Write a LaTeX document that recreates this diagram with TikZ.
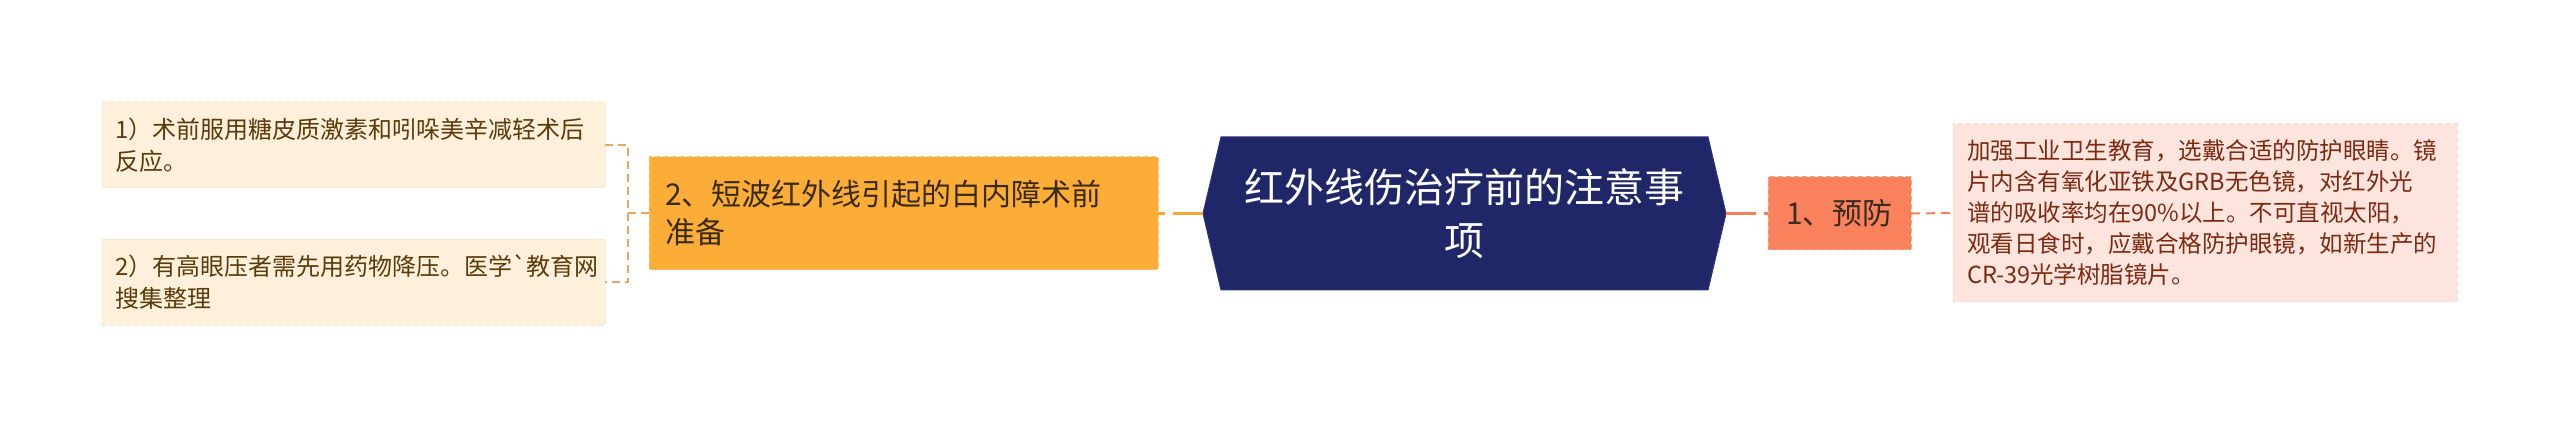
\documentclass[tikz,border=0pt]{standalone}
\usepackage{fontspec}
\setmainfont{Noto Sans CJK SC}[Ligatures=TeXOff]
\usetikzlibrary{backgrounds,calc}
\definecolor{navy}{HTML}{202768}
\definecolor{navyedge}{HTML}{2E3678}
\definecolor{orangefill}{HTML}{FBAD37}
\definecolor{orangeedge}{HTML}{FCC774}
\definecolor{orangetext}{HTML}{3B2A12}
\definecolor{coralfill}{HTML}{F9815B}
\definecolor{coraledge}{HTML}{FBA287}
\definecolor{coraltext}{HTML}{3A2A22}
\definecolor{leaffill}{HTML}{FEF0DA}
\definecolor{leafedge}{HTML}{FBE6C6}
\definecolor{leaftext}{HTML}{5C3B0B}
\definecolor{pinkfill}{HTML}{FDE5DD}
\definecolor{pinkedge}{HTML}{FBD9CE}
\definecolor{pinktext}{HTML}{7C2A12}
\definecolor{leftline}{HTML}{F7A838}
\definecolor{bracketline}{HTML}{E8A95E}
\definecolor{rightline}{HTML}{F4805A}
\begin{document}
\begin{tikzpicture}[x=1pt,y=-1pt,
  every node/.style={inner sep=0pt, outer sep=0pt},
  rootbox/.style={minimum width=523pt, minimum height=153pt, align=center,
    text=white, font=\fontsize{40}{53}\selectfont},
  mainbranch/.style={draw=orangeedge, dashed, dash pattern=on 5pt off 3pt, line width=1pt,
    fill=orangefill, text=orangetext, font=\fontsize{30}{38}\selectfont,
    text width=477pt, align=left, inner xsep=16pt, minimum height=113pt},
  sidebranch/.style={draw=coraledge, dashed, dash pattern=on 5pt off 3pt, line width=1pt,
    fill=coralfill, text=coraltext, font=\fontsize{30}{38}\selectfont,
    minimum width=143pt, minimum height=73pt, align=center},
  leafbox/.style={draw=leafedge, dashed, dash pattern=on 5pt off 3pt, line width=1pt,
    fill=leaffill, text=leaftext, font=\fontsize{24}{32}\selectfont,
    text width=477pt, align=left, inner xsep=13pt, minimum height=86pt},
  notebox/.style={draw=pinkedge, dashed, dash pattern=on 5pt off 3pt, line width=1pt,
    fill=pinkfill, text=pinktext, font=\fontsize{23.5}{31}\selectfont,
    text width=476pt, align=left, inner xsep=14pt, minimum height=178pt},
  leftlink/.style={draw=leftline, line width=3pt, dash pattern=on 30pt off 8pt},
  rightlink/.style={draw=rightline, line width=3pt, dash pattern=on 30pt off 8pt},
  bracketlink/.style={draw=bracketline, line width=2pt, dash pattern=on 8pt off 5pt},
  notelink/.style={draw=rightline, line width=2pt, dash pattern=on 9pt off 6pt}
]
\useasboundingbox (0,0) rectangle (2560,427);

% nodes
\node[rootbox] (root) at (1464.5,213.5) {红外线伤治疗前的注意事\\项};
\begin{scope}[on background layer]
  \fill[white] (0,0) rectangle (2560,427);
  \filldraw[fill=navy, draw=navyedge, line width=1pt]
    (root.west) -- ($(root.north west)+(18,0)$) -- ($(root.north east)+(-18,0)$)
    -- (root.east) -- ($(root.south east)+(-18,0)$) -- ($(root.south west)+(18,0)$) -- cycle;
\end{scope}

\node[mainbranch, anchor=west] (prep) at (649,213.5) {2、短波红外线引起的白内障术前\\准备};
\node[sidebranch, anchor=west] (prev) at (1768,213.5) {1、预防};
\node[notebox, anchor=west] (note) at (1953,213) {加强工业卫生教育，选戴合适的防护眼睛。镜\\片内含有氧化亚铁及GRB无色镜，对红外光\\谱的吸收率均在90\%以上。不可直视太阳，\\观看日食时，应戴合格防护眼镜，如新生产的\\CR-39光学树脂镜片。};
\node[leafbox, anchor=west] (leafa) at (102,145) {1）术前服用糖皮质激素和吲哚美辛减轻术后\\反应。};
\node[leafbox, anchor=west] (leafb) at (102,282.5) {2）有高眼压者需先用药物降压。医学`教育网\\搜集整理};

% connectors
\coordinate (fork) at (628,213.5);
\draw[leftlink] (root.west) -- (prep.east);
\draw[rightlink] (root.east) -- (prev.west);
\draw[notelink] (prev.east) -- (note.west);
\draw[bracketlink] (prep.west) -- (fork);
\draw[bracketlink] (leafa.east) -- (leafa.east -| fork) -- (leafb.east -| fork) -- (leafb.east);
\end{tikzpicture}
\end{document}
